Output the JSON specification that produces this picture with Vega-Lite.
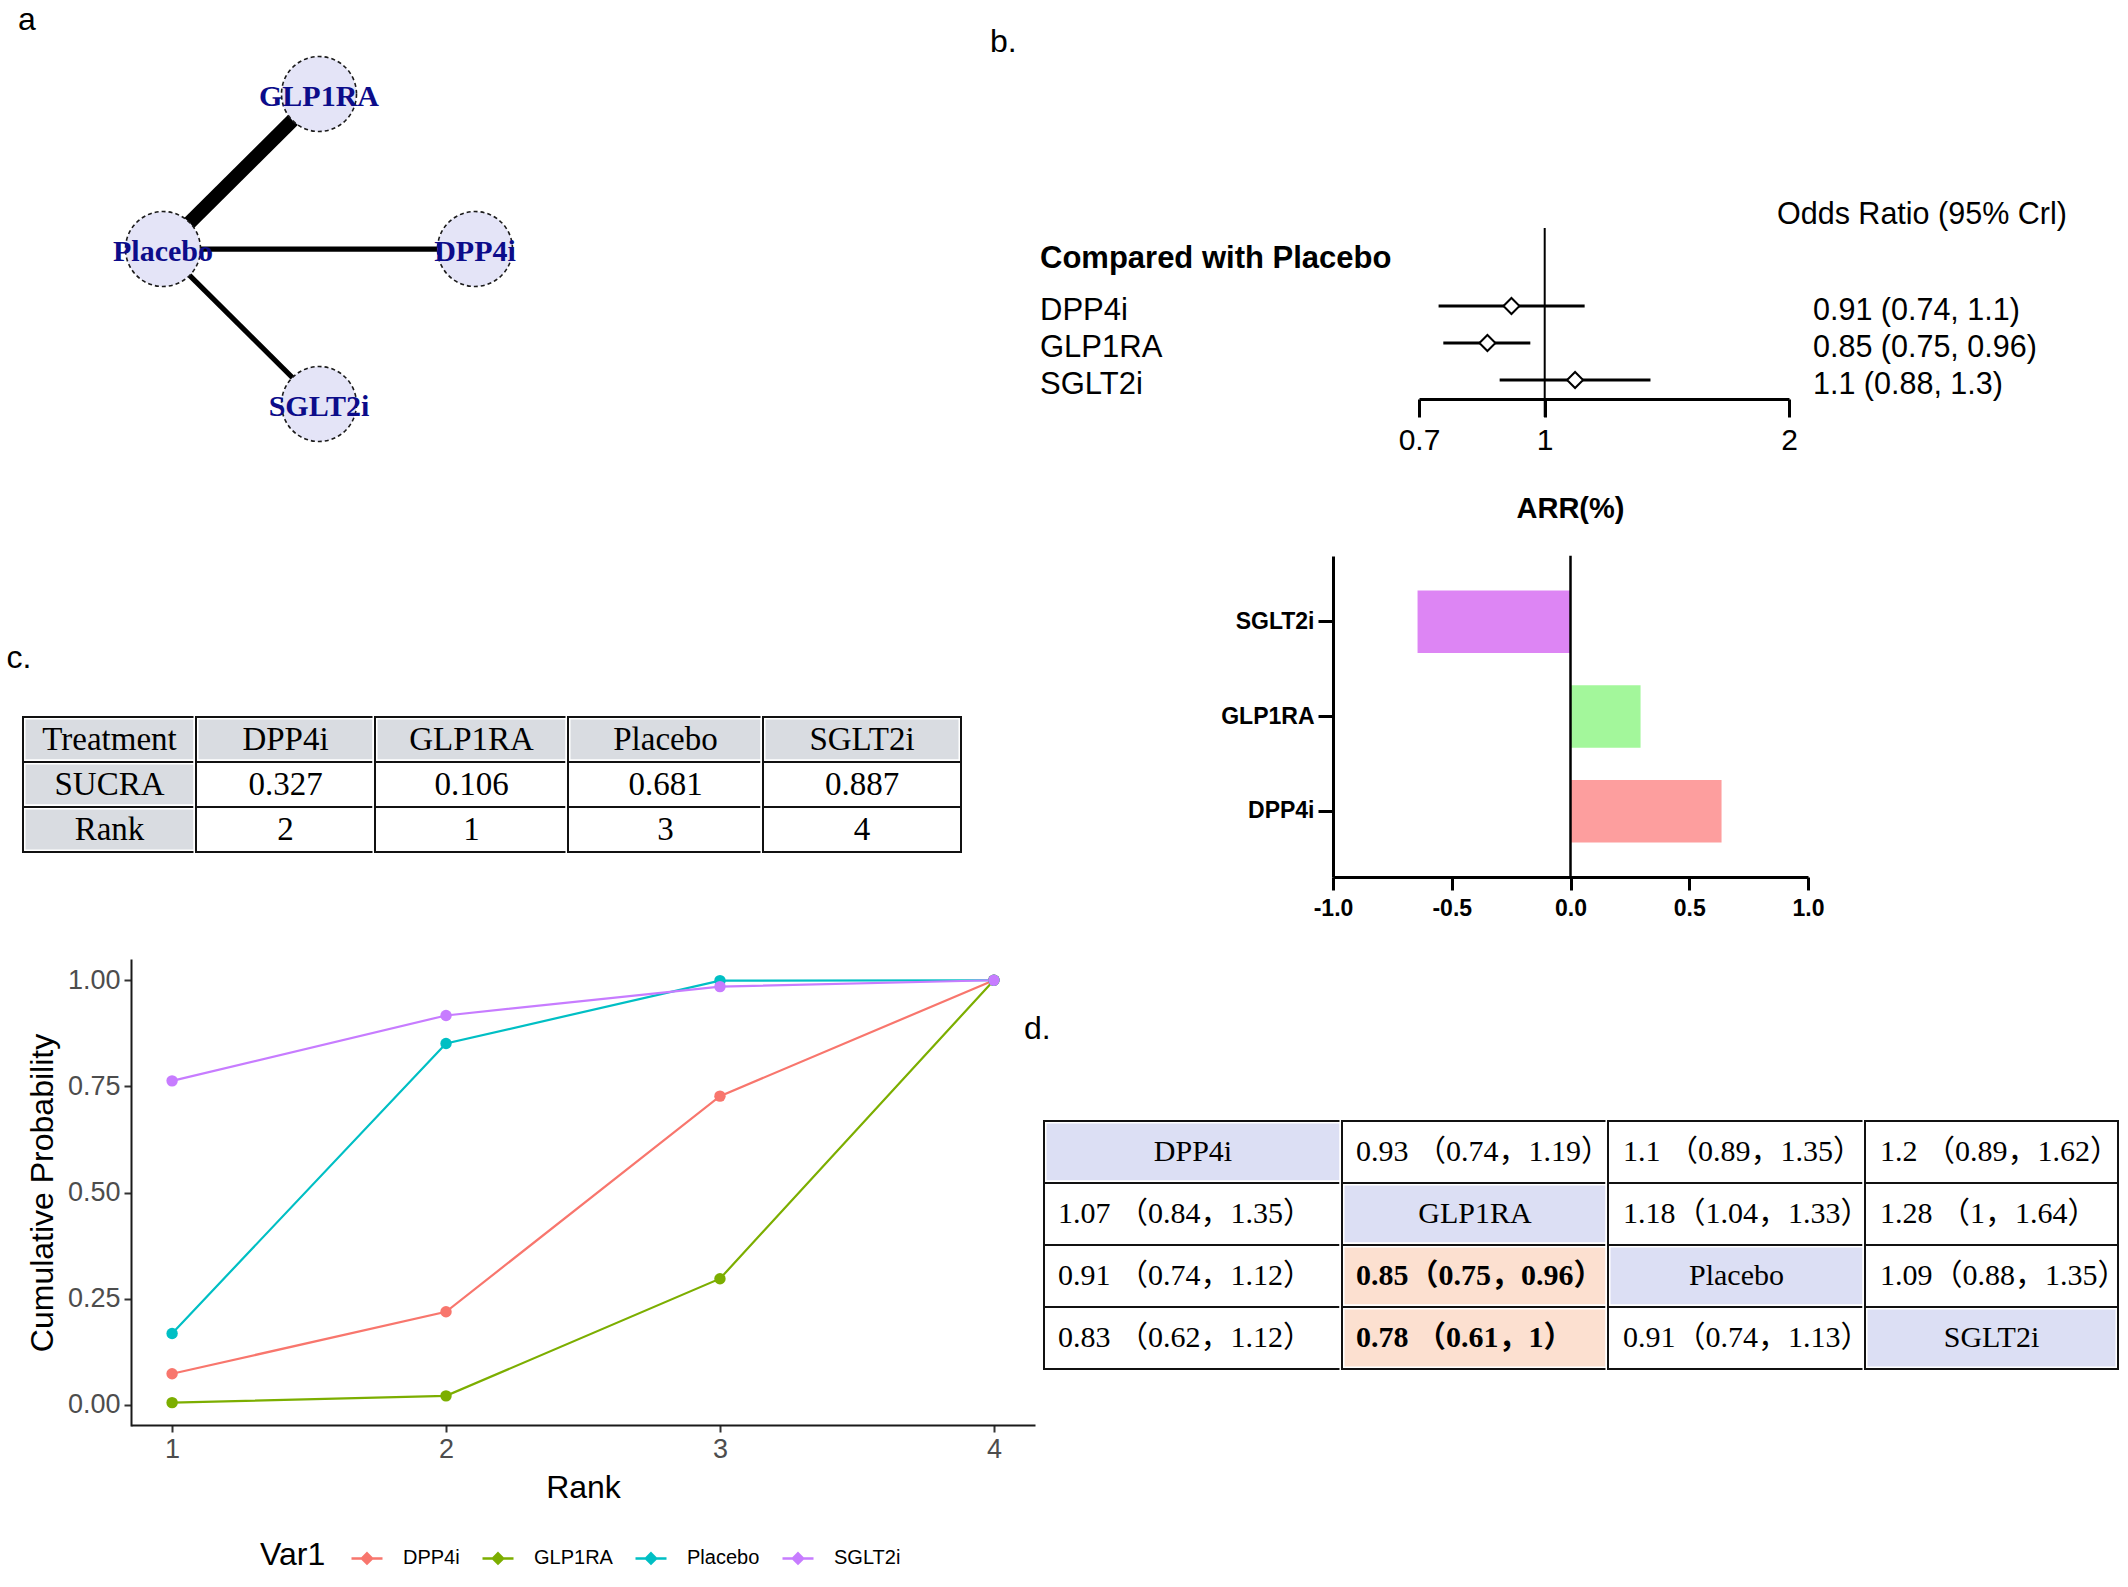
{
"$schema": "https://vega.github.io/schema/vega-lite/v6.json",
"width": 2128,
"height": 1587,
"autosize": {"type": "none"},
"padding": 0,
"background": "white",
"config": {
  "font": "Liberation Sans",
  "view": {"stroke": null},
  "axis": {"grid": false, "domainColor": "black", "tickColor": "black", "labelColor": "black", "titleColor": "black", "labelFont": "Liberation Sans", "titleFont": "Liberation Sans", "titleFontWeight": "normal", "labelFlush": false, "labelOverlap": false, "labelBound": false}
},
"datasets": {
  "nodes": [
    {"node": "DPP4i", "cx": 1, "cy": 0},
    {"node": "GLP1RA", "cx": 0, "cy": 1},
    {"node": "Placebo", "cx": -1, "cy": 0},
    {"node": "SGLT2i", "cx": 0, "cy": -1}
  ],
  "edges": [
    {"from": "Placebo", "to": "GLP1RA", "studies": 8},
    {"from": "Placebo", "to": "DPP4i", "studies": 3},
    {"from": "Placebo", "to": "SGLT2i", "studies": 3}
  ],
  "forest": [
    {"treatment": "DPP4i", "or": 0.91, "lo": 0.74, "hi": 1.12, "label": "0.91 (0.74, 1.1)"},
    {"treatment": "GLP1RA", "or": 0.85, "lo": 0.75, "hi": 0.96, "label": "0.85 (0.75, 0.96)"},
    {"treatment": "SGLT2i", "or": 1.09, "lo": 0.88, "hi": 1.35, "label": "1.1 (0.88, 1.3)"}
  ],
  "arr": [
    {"treatment": "DPP4i", "arr": 0.636},
    {"treatment": "GLP1RA", "arr": 0.295},
    {"treatment": "SGLT2i", "arr": -0.644}
  ],
  "sucra": [
    {"row": "Treatment", "col": "Treatment", "text": "Treatment", "kind": "label"},
    {"row": "SUCRA", "col": "Treatment", "text": "SUCRA", "kind": "label"},
    {"row": "Rank", "col": "Treatment", "text": "Rank", "kind": "label"},
    {"row": "Treatment", "col": "DPP4i", "text": "DPP4i", "kind": "label"},
    {"row": "SUCRA", "col": "DPP4i", "text": "0.327", "kind": "value"},
    {"row": "Rank", "col": "DPP4i", "text": "2", "kind": "value"},
    {"row": "Treatment", "col": "GLP1RA", "text": "GLP1RA", "kind": "label"},
    {"row": "SUCRA", "col": "GLP1RA", "text": "0.106", "kind": "value"},
    {"row": "Rank", "col": "GLP1RA", "text": "1", "kind": "value"},
    {"row": "Treatment", "col": "Placebo", "text": "Placebo", "kind": "label"},
    {"row": "SUCRA", "col": "Placebo", "text": "0.681", "kind": "value"},
    {"row": "Rank", "col": "Placebo", "text": "3", "kind": "value"},
    {"row": "Treatment", "col": "SGLT2i", "text": "SGLT2i", "kind": "label"},
    {"row": "SUCRA", "col": "SGLT2i", "text": "0.887", "kind": "value"},
    {"row": "Rank", "col": "SGLT2i", "text": "4", "kind": "value"}
  ],
  "rankprob": [
    {"treatment": "DPP4i", "rank": 1, "prob": 0.073},
    {"treatment": "DPP4i", "rank": 2, "prob": 0.219},
    {"treatment": "DPP4i", "rank": 3, "prob": 0.727},
    {"treatment": "DPP4i", "rank": 4, "prob": 1.0},
    {"treatment": "GLP1RA", "rank": 1, "prob": 0.005},
    {"treatment": "GLP1RA", "rank": 2, "prob": 0.021},
    {"treatment": "GLP1RA", "rank": 3, "prob": 0.297},
    {"treatment": "GLP1RA", "rank": 4, "prob": 1.0},
    {"treatment": "Placebo", "rank": 1, "prob": 0.168},
    {"treatment": "Placebo", "rank": 2, "prob": 0.851},
    {"treatment": "Placebo", "rank": 3, "prob": 0.999},
    {"treatment": "Placebo", "rank": 4, "prob": 1.0},
    {"treatment": "SGLT2i", "rank": 1, "prob": 0.763},
    {"treatment": "SGLT2i", "rank": 2, "prob": 0.917},
    {"treatment": "SGLT2i", "rank": 3, "prob": 0.985},
    {"treatment": "SGLT2i", "rank": 4, "prob": 1.0}
  ],
  "league": [
    {"row": "DPP4i", "col": "DPP4i", "text": "DPP4i", "kind": "treatment"},
    {"row": "DPP4i", "col": "GLP1RA", "text": "0.93 （0.74，1.19）", "kind": "estimate"},
    {"row": "DPP4i", "col": "Placebo", "text": "1.1 （0.89，1.35）", "kind": "estimate"},
    {"row": "DPP4i", "col": "SGLT2i", "text": "1.2 （0.89，1.62）", "kind": "estimate"},
    {"row": "GLP1RA", "col": "DPP4i", "text": "1.07 （0.84，1.35）", "kind": "estimate"},
    {"row": "GLP1RA", "col": "GLP1RA", "text": "GLP1RA", "kind": "treatment"},
    {"row": "GLP1RA", "col": "Placebo", "text": "1.18（1.04，1.33）", "kind": "estimate"},
    {"row": "GLP1RA", "col": "SGLT2i", "text": "1.28 （1，1.64）", "kind": "estimate"},
    {"row": "Placebo", "col": "DPP4i", "text": "0.91 （0.74，1.12）", "kind": "estimate"},
    {"row": "Placebo", "col": "GLP1RA", "text": "0.85（0.75，0.96）", "kind": "significant"},
    {"row": "Placebo", "col": "Placebo", "text": "Placebo", "kind": "treatment"},
    {"row": "Placebo", "col": "SGLT2i", "text": "1.09（0.88，1.35）", "kind": "estimate"},
    {"row": "SGLT2i", "col": "DPP4i", "text": "0.83 （0.62，1.12）", "kind": "estimate"},
    {"row": "SGLT2i", "col": "GLP1RA", "text": "0.78 （0.61，1）", "kind": "significant"},
    {"row": "SGLT2i", "col": "Placebo", "text": "0.91（0.74，1.13）", "kind": "estimate"},
    {"row": "SGLT2i", "col": "SGLT2i", "text": "SGLT2i", "kind": "treatment"}
  ]
},
"resolve": {
  "scale": {"x": "independent", "y": "independent", "color": "independent", "strokeWidth": "independent"},
  "axis": {"x": "independent", "y": "independent"},
  "legend": {"color": "independent", "strokeWidth": "independent"}
},
"layer": [
  {
    "layer": [
      {
        "data": {"name": "edges"},
        "transform": [
          {"lookup": "from", "from": {"data": {"name": "nodes"}, "key": "node", "fields": ["cx", "cy"]}, "as": ["from_cx", "from_cy"]},
          {"lookup": "to", "from": {"data": {"name": "nodes"}, "key": "node", "fields": ["cx", "cy"]}, "as": ["to_cx", "to_cy"]}
        ],
        "mark": {"type": "rule", "color": "black", "strokeCap": "butt"},
        "encoding": {
          "x": {"field": "from_cx", "type": "quantitative", "scale": {"domain": [-1, 1], "range": [163, 475], "nice": false, "zero": false}, "axis": null},
          "y": {"field": "from_cy", "type": "quantitative", "scale": {"domain": [-1, 1], "range": [404, 94], "nice": false, "zero": false}, "axis": null},
          "x2": {"field": "to_cx"},
          "y2": {"field": "to_cy"},
          "strokeWidth": {"field": "studies", "type": "quantitative", "scale": {"domain": [0, 8], "range": [0, 14]}, "legend": null}
        }
      },
      {
        "data": {"name": "nodes"},
        "mark": {"type": "point", "shape": "circle", "filled": true, "size": 5625, "fill": "#E4E4F7", "stroke": "#1a1a1a", "strokeWidth": 1.6, "strokeDash": [4, 3], "opacity": 1},
        "encoding": {
          "x": {"field": "cx", "type": "quantitative", "axis": null},
          "y": {"field": "cy", "type": "quantitative", "axis": null}
        }
      },
      {
        "data": {"name": "nodes"},
        "mark": {"type": "text", "font": "Liberation Serif", "fontWeight": "bold", "fontSize": 30, "color": "#0C0C8A", "baseline": "middle", "dy": 3},
        "encoding": {
          "x": {"field": "cx", "type": "quantitative", "axis": null},
          "y": {"field": "cy", "type": "quantitative", "axis": null},
          "text": {"field": "node", "type": "nominal"}
        }
      },
      {
        "data": {"values": [{}]},
        "mark": {"type": "text", "text": "a", "font": "Liberation Sans", "fontSize": 32, "align": "left", "baseline": "alphabetic", "color": "black"},
        "encoding": {
          "x": {"datum": -1.929, "type": "quantitative", "axis": null},
          "y": {"datum": 1.413, "type": "quantitative", "axis": null}
        }
      }
    ]
  },
  {
    "data": {"name": "forest"},
    "layer": [
      {
        "mark": {"type": "rule", "color": "black", "strokeWidth": 3},
        "encoding": {
          "x": {"field": "lo", "type": "quantitative", "scale": {"type": "log", "domain": [0.7, 2], "range": [1419, 1789], "nice": false}, "axis": {"orient": "bottom", "offset": -1188, "values": [0.7, 1, 2], "format": "~g", "title": null, "tickSize": 18, "tickWidth": 3, "domainWidth": 3, "labelFontSize": 30, "labelPadding": 8}},
          "x2": {"field": "hi"},
          "y": {"field": "treatment", "type": "nominal", "scale": {"type": "point", "domain": ["DPP4i", "GLP1RA", "SGLT2i"], "range": [306, 380], "padding": 0}, "axis": null}
        }
      },
      {
        "data": {"values": [{}]},
        "mark": {"type": "rule", "color": "black", "strokeWidth": 2, "yOffset": -78, "y2Offset": 37},
        "encoding": {
          "x": {"datum": 1, "type": "quantitative"},
          "y": {"datum": "DPP4i", "type": "nominal", "axis": null},
          "y2": {"datum": "SGLT2i"}
        }
      },
      {
        "mark": {"type": "point", "shape": "diamond", "filled": true, "fill": "white", "stroke": "black", "strokeWidth": 2, "size": 256, "opacity": 1},
        "encoding": {
          "x": {"field": "or", "type": "quantitative"},
          "y": {"field": "treatment", "type": "nominal", "axis": null}
        }
      }
    ]
  },
  {
    "data": {"name": "forest"},
    "encoding": {
      "y": {"field": "treatment", "type": "nominal", "scale": {"type": "point", "domain": ["DPP4i", "GLP1RA", "SGLT2i"], "range": [306, 380], "padding": 0}, "axis": null}
    },
    "layer": [
      {
        "mark": {"type": "text", "align": "left", "baseline": "alphabetic", "dy": 14, "fontSize": 31, "color": "black"},
        "encoding": {
          "x": {"datum": "name", "type": "nominal", "scale": {"type": "point", "domain": ["name", "estimate"], "range": [1040, 1813], "padding": 0}, "axis": null},
          "text": {"field": "treatment", "type": "nominal"}
        }
      },
      {
        "mark": {"type": "text", "align": "left", "baseline": "alphabetic", "dy": 14, "fontSize": 30.5, "color": "black"},
        "encoding": {
          "x": {"datum": "estimate", "type": "nominal", "axis": null},
          "text": {"field": "label", "type": "nominal"}
        }
      },
      {
        "data": {"values": [{}]},
        "mark": {"type": "text", "text": "Compared with Placebo", "align": "left", "baseline": "alphabetic", "dy": -38, "fontSize": 31, "fontWeight": "bold", "color": "black"},
        "encoding": {
          "x": {"datum": "name", "type": "nominal", "axis": null},
          "y": {"datum": "DPP4i", "type": "nominal", "axis": null}
        }
      },
      {
        "data": {"values": [{}]},
        "mark": {"type": "text", "text": "Odds Ratio (95% Crl)", "align": "left", "baseline": "alphabetic", "dx": -36, "dy": -82, "fontSize": 30.5, "color": "black"},
        "encoding": {
          "x": {"datum": "estimate", "type": "nominal", "axis": null},
          "y": {"datum": "DPP4i", "type": "nominal", "axis": null}
        }
      },
      {
        "data": {"values": [{}]},
        "mark": {"type": "text", "text": "b.", "font": "Liberation Sans", "align": "left", "baseline": "alphabetic", "dx": -50, "dy": -254, "fontSize": 32, "color": "black"},
        "encoding": {
          "x": {"datum": "name", "type": "nominal", "axis": null},
          "y": {"datum": "DPP4i", "type": "nominal", "axis": null}
        }
      }
    ]
  },
  {
    "data": {"name": "arr"},
    "layer": [
      {
        "mark": {"type": "bar"},
        "encoding": {
          "x": {"field": "arr", "type": "quantitative", "scale": {"domain": [-1, 1], "range": [1333, 1808], "nice": false}, "axis": {"orient": "bottom", "offset": -710, "values": [-1, -0.5, 0, 0.5, 1], "labelExpr": "datum.value < 0 ? '-' + format(-datum.value, '.1f') : format(datum.value, '.1f')", "title": null, "tickSize": 13, "tickWidth": 3, "domainWidth": 3, "labelFontSize": 23, "labelFontWeight": "bold", "labelPadding": 7}},
          "y": {"field": "treatment", "type": "nominal", "scale": {"type": "band", "domain": ["SGLT2i", "GLP1RA", "DPP4i"], "range": [556, 877], "paddingInner": 0.34, "paddingOuter": 0.365}, "axis": {"orient": "left", "offset": -1333, "title": null, "tickSize": 15, "tickWidth": 3, "domainWidth": 3, "labelFontSize": 23, "labelFontWeight": "bold", "labelPadding": 4}},
          "color": {"field": "treatment", "type": "nominal", "scale": {"domain": ["SGLT2i", "GLP1RA", "DPP4i"], "range": ["#DD85F4", "#A3F79B", "#FD9E9E"]}, "legend": null}
        }
      },
      {
        "data": {"values": [{}]},
        "mark": {"type": "rule", "color": "black", "strokeWidth": 2.5, "yOffset": -66, "y2Offset": 65},
        "encoding": {
          "x": {"datum": 0, "type": "quantitative"},
          "y": {"datum": "SGLT2i", "type": "nominal"},
          "y2": {"datum": "DPP4i"}
        }
      },
      {
        "data": {"values": [{}]},
        "mark": {"type": "text", "text": "ARR(%)", "fontSize": 29, "fontWeight": "bold", "baseline": "alphabetic", "dy": -104, "color": "black"},
        "encoding": {
          "x": {"datum": 0, "type": "quantitative"},
          "y": {"datum": "SGLT2i", "type": "nominal"}
        }
      }
    ]
  },
  {
    "data": {"name": "sucra"},
    "encoding": {
      "y": {"field": "row", "type": "nominal", "scale": {"type": "band", "domain": ["Treatment", "SUCRA", "Rank"], "range": [717, 852], "paddingInner": 0, "paddingOuter": 0}, "axis": null}
    },
    "resolve": {"scale": {"x": "independent"}},
    "layer": [
      {
        "transform": [{"filter": "datum.col === 'Treatment'"}],
        "encoding": {"x": {"field": "col", "type": "nominal", "scale": {"type": "band", "range": [23, 196], "paddingInner": 0, "paddingOuter": 0}, "axis": null}},
        "layer": [
          {"mark": {"type": "rect", "stroke": "white", "strokeWidth": 5}, "encoding": {"color": {"field": "kind", "type": "nominal", "scale": {"domain": ["label", "value"], "range": ["#D9DCE1", "#FFFFFF"]}, "legend": null}}},
          {"mark": {"type": "rect", "fillOpacity": 0, "stroke": "#111111", "strokeWidth": 2}},
          {"mark": {"type": "text", "font": "Liberation Serif", "fontSize": 33, "baseline": "middle", "color": "black"}, "encoding": {"text": {"field": "text", "type": "nominal"}}},
          {
            "data": {"values": [{}]},
            "mark": {"type": "text", "text": "c.", "font": "Liberation Sans", "fontSize": 32, "align": "left", "baseline": "alphabetic", "dx": -103, "dy": -72, "color": "black"},
            "encoding": {
              "x": {"datum": "Treatment", "type": "nominal", "axis": null},
              "y": {"datum": "Treatment", "type": "nominal", "axis": null}
            }
          }
        ]
      },
      {
        "transform": [{"filter": "datum.col === 'DPP4i'"}],
        "encoding": {"x": {"field": "col", "type": "nominal", "scale": {"type": "band", "range": [196, 375], "paddingInner": 0, "paddingOuter": 0}, "axis": null}},
        "layer": [
          {"mark": {"type": "rect", "stroke": "white", "strokeWidth": 5}, "encoding": {"color": {"field": "kind", "type": "nominal", "scale": {"domain": ["label", "value"], "range": ["#D9DCE1", "#FFFFFF"]}, "legend": null}}},
          {"mark": {"type": "rect", "fillOpacity": 0, "stroke": "#111111", "strokeWidth": 2}},
          {"mark": {"type": "text", "font": "Liberation Serif", "fontSize": 33, "baseline": "middle", "color": "black"}, "encoding": {"text": {"field": "text", "type": "nominal"}}}
        ]
      },
      {
        "transform": [{"filter": "datum.col === 'GLP1RA'"}],
        "encoding": {"x": {"field": "col", "type": "nominal", "scale": {"type": "band", "range": [375, 568], "paddingInner": 0, "paddingOuter": 0}, "axis": null}},
        "layer": [
          {"mark": {"type": "rect", "stroke": "white", "strokeWidth": 5}, "encoding": {"color": {"field": "kind", "type": "nominal", "scale": {"domain": ["label", "value"], "range": ["#D9DCE1", "#FFFFFF"]}, "legend": null}}},
          {"mark": {"type": "rect", "fillOpacity": 0, "stroke": "#111111", "strokeWidth": 2}},
          {"mark": {"type": "text", "font": "Liberation Serif", "fontSize": 33, "baseline": "middle", "color": "black"}, "encoding": {"text": {"field": "text", "type": "nominal"}}}
        ]
      },
      {
        "transform": [{"filter": "datum.col === 'Placebo'"}],
        "encoding": {"x": {"field": "col", "type": "nominal", "scale": {"type": "band", "range": [568, 763], "paddingInner": 0, "paddingOuter": 0}, "axis": null}},
        "layer": [
          {"mark": {"type": "rect", "stroke": "white", "strokeWidth": 5}, "encoding": {"color": {"field": "kind", "type": "nominal", "scale": {"domain": ["label", "value"], "range": ["#D9DCE1", "#FFFFFF"]}, "legend": null}}},
          {"mark": {"type": "rect", "fillOpacity": 0, "stroke": "#111111", "strokeWidth": 2}},
          {"mark": {"type": "text", "font": "Liberation Serif", "fontSize": 33, "baseline": "middle", "color": "black"}, "encoding": {"text": {"field": "text", "type": "nominal"}}}
        ]
      },
      {
        "transform": [{"filter": "datum.col === 'SGLT2i'"}],
        "encoding": {"x": {"field": "col", "type": "nominal", "scale": {"type": "band", "range": [763, 961], "paddingInner": 0, "paddingOuter": 0}, "axis": null}},
        "layer": [
          {"mark": {"type": "rect", "stroke": "white", "strokeWidth": 5}, "encoding": {"color": {"field": "kind", "type": "nominal", "scale": {"domain": ["label", "value"], "range": ["#D9DCE1", "#FFFFFF"]}, "legend": null}}},
          {"mark": {"type": "rect", "fillOpacity": 0, "stroke": "#111111", "strokeWidth": 2}},
          {"mark": {"type": "text", "font": "Liberation Serif", "fontSize": 33, "baseline": "middle", "color": "black"}, "encoding": {"text": {"field": "text", "type": "nominal"}}}
        ]
      }
    ]
  },
  {
    "data": {"name": "rankprob"},
    "mark": {"type": "line", "strokeWidth": 2.2, "point": {"filled": true, "size": 130}},
    "encoding": {
      "x": {"field": "rank", "type": "quantitative", "scale": {"domain": [0.85, 4.15], "range": [131, 1035], "nice": false, "zero": false}, "axis": {"orient": "bottom", "offset": -162, "values": [1, 2, 3, 4], "format": "d", "title": "Rank", "titleFontSize": 32, "titlePadding": 10, "tickSize": 7, "tickWidth": 2, "domainWidth": 2, "domainColor": "#1a1a1a", "tickColor": "#333333", "labelColor": "#4D4D4D", "labelFontSize": 27, "labelPadding": 4}},
      "y": {"field": "prob", "type": "quantitative", "scale": {"domain": [-0.05, 1.05], "range": [1426, 959], "nice": false, "zero": false}, "axis": {"orient": "left", "offset": -131, "values": [0, 0.25, 0.5, 0.75, 1], "format": ".2f", "title": "Cumulative Probability", "titleFontSize": 32, "titlePadding": 8, "tickSize": 7, "tickWidth": 2, "domainWidth": 2, "domainColor": "#1a1a1a", "tickColor": "#333333", "labelColor": "#4D4D4D", "labelFontSize": 27, "labelPadding": 4}},
      "color": {"field": "treatment", "type": "nominal", "scale": {"domain": ["DPP4i", "GLP1RA", "Placebo", "SGLT2i"], "range": ["#F8766D", "#7CAE00", "#00BFC4", "#C77CFF"]}, "legend": {"title": "Var1", "orient": "none", "legendX": 260, "legendY": 1541, "direction": "horizontal", "titleOrient": "left", "titleFontSize": 32, "titleFontWeight": "normal", "titleColor": "black", "titlePadding": 24, "labelFontSize": 20, "labelColor": "black", "labelOffset": 19, "columnPadding": 17, "symbolType": "M-1,0L1,0M0,-0.33L0.33,0L0,0.33L-0.33,0Z", "symbolSize": 961, "symbolStrokeWidth": 2.5}}
    }
  },
  {
    "data": {"name": "league"},
    "encoding": {
      "y": {"field": "row", "type": "nominal", "scale": {"type": "band", "domain": ["DPP4i", "GLP1RA", "Placebo", "SGLT2i"], "range": [1121, 1369], "paddingInner": 0, "paddingOuter": 0}, "axis": null}
    },
    "resolve": {"scale": {"x": "independent"}},
    "layer": [
      {
        "transform": [{"filter": "datum.col === 'DPP4i'"}],
        "encoding": {"x": {"field": "col", "type": "nominal", "scale": {"type": "band", "range": [1044, 1342], "paddingInner": 0, "paddingOuter": 0}, "axis": null}},
        "layer": [
          {"mark": {"type": "rect", "stroke": "white", "strokeWidth": 5}, "encoding": {"color": {"field": "kind", "type": "nominal", "scale": {"domain": ["treatment", "estimate", "significant"], "range": ["#DCDFF4", "#FFFFFF", "#FCE0D0"]}, "legend": null}}},
          {"mark": {"type": "rect", "fillOpacity": 0, "stroke": "#111111", "strokeWidth": 2}},
          {"transform": [{"filter": "datum.kind === 'treatment'"}], "mark": {"type": "text", "font": "Liberation Serif", "fontSize": 30, "baseline": "middle", "color": "black"}, "encoding": {"text": {"field": "text", "type": "nominal"}}},
          {"transform": [{"filter": "datum.kind === 'estimate'"}], "mark": {"type": "text", "font": "Liberation Serif, Noto Sans CJK SC", "fontSize": 30, "baseline": "middle", "align": "left", "dx": 14, "color": "black"}, "encoding": {"x": {"field": "col", "type": "nominal", "bandPosition": 0, "axis": null}, "text": {"field": "text", "type": "nominal"}}},
          {
            "data": {"values": [{}]},
            "mark": {"type": "text", "text": "d.", "font": "Liberation Sans", "fontSize": 32, "align": "left", "baseline": "alphabetic", "dx": -169, "dy": -113, "color": "black"},
            "encoding": {
              "x": {"datum": "DPP4i", "type": "nominal", "axis": null},
              "y": {"datum": "DPP4i", "type": "nominal", "axis": null}
            }
          }
        ]
      },
      {
        "transform": [{"filter": "datum.col === 'GLP1RA'"}],
        "encoding": {"x": {"field": "col", "type": "nominal", "scale": {"type": "band", "range": [1342, 1608], "paddingInner": 0, "paddingOuter": 0}, "axis": null}},
        "layer": [
          {"mark": {"type": "rect", "stroke": "white", "strokeWidth": 5}, "encoding": {"color": {"field": "kind", "type": "nominal", "scale": {"domain": ["treatment", "estimate", "significant"], "range": ["#DCDFF4", "#FFFFFF", "#FCE0D0"]}, "legend": null}}},
          {"mark": {"type": "rect", "fillOpacity": 0, "stroke": "#111111", "strokeWidth": 2}},
          {"transform": [{"filter": "datum.kind === 'treatment'"}], "mark": {"type": "text", "font": "Liberation Serif", "fontSize": 30, "baseline": "middle", "color": "black"}, "encoding": {"text": {"field": "text", "type": "nominal"}}},
          {"transform": [{"filter": "datum.kind === 'estimate'"}], "mark": {"type": "text", "font": "Liberation Serif, Noto Sans CJK SC", "fontSize": 30, "baseline": "middle", "align": "left", "dx": 14, "color": "black"}, "encoding": {"x": {"field": "col", "type": "nominal", "bandPosition": 0, "axis": null}, "text": {"field": "text", "type": "nominal"}}},
          {"transform": [{"filter": "datum.kind === 'significant'"}], "mark": {"type": "text", "font": "Liberation Serif, Noto Sans CJK SC", "fontSize": 30, "fontWeight": "bold", "baseline": "middle", "align": "left", "dx": 14, "color": "black"}, "encoding": {"x": {"field": "col", "type": "nominal", "bandPosition": 0, "axis": null}, "text": {"field": "text", "type": "nominal"}}}
        ]
      },
      {
        "transform": [{"filter": "datum.col === 'Placebo'"}],
        "encoding": {"x": {"field": "col", "type": "nominal", "scale": {"type": "band", "range": [1608, 1865], "paddingInner": 0, "paddingOuter": 0}, "axis": null}},
        "layer": [
          {"mark": {"type": "rect", "stroke": "white", "strokeWidth": 5}, "encoding": {"color": {"field": "kind", "type": "nominal", "scale": {"domain": ["treatment", "estimate", "significant"], "range": ["#DCDFF4", "#FFFFFF", "#FCE0D0"]}, "legend": null}}},
          {"mark": {"type": "rect", "fillOpacity": 0, "stroke": "#111111", "strokeWidth": 2}},
          {"transform": [{"filter": "datum.kind === 'treatment'"}], "mark": {"type": "text", "font": "Liberation Serif", "fontSize": 30, "baseline": "middle", "color": "black"}, "encoding": {"text": {"field": "text", "type": "nominal"}}},
          {"transform": [{"filter": "datum.kind === 'estimate'"}], "mark": {"type": "text", "font": "Liberation Serif, Noto Sans CJK SC", "fontSize": 30, "baseline": "middle", "align": "left", "dx": 15, "color": "black"}, "encoding": {"x": {"field": "col", "type": "nominal", "bandPosition": 0, "axis": null}, "text": {"field": "text", "type": "nominal"}}}
        ]
      },
      {
        "transform": [{"filter": "datum.col === 'SGLT2i'"}],
        "encoding": {"x": {"field": "col", "type": "nominal", "scale": {"type": "band", "range": [1865, 2118], "paddingInner": 0, "paddingOuter": 0}, "axis": null}},
        "layer": [
          {"mark": {"type": "rect", "stroke": "white", "strokeWidth": 5}, "encoding": {"color": {"field": "kind", "type": "nominal", "scale": {"domain": ["treatment", "estimate", "significant"], "range": ["#DCDFF4", "#FFFFFF", "#FCE0D0"]}, "legend": null}}},
          {"mark": {"type": "rect", "fillOpacity": 0, "stroke": "#111111", "strokeWidth": 2}},
          {"transform": [{"filter": "datum.kind === 'treatment'"}], "mark": {"type": "text", "font": "Liberation Serif", "fontSize": 30, "baseline": "middle", "color": "black"}, "encoding": {"text": {"field": "text", "type": "nominal"}}},
          {"transform": [{"filter": "datum.kind === 'estimate'"}], "mark": {"type": "text", "font": "Liberation Serif, Noto Sans CJK SC", "fontSize": 30, "baseline": "middle", "align": "left", "dx": 15, "color": "black"}, "encoding": {"x": {"field": "col", "type": "nominal", "bandPosition": 0, "axis": null}, "text": {"field": "text", "type": "nominal"}}}
        ]
      }
    ]
  }
]
}
